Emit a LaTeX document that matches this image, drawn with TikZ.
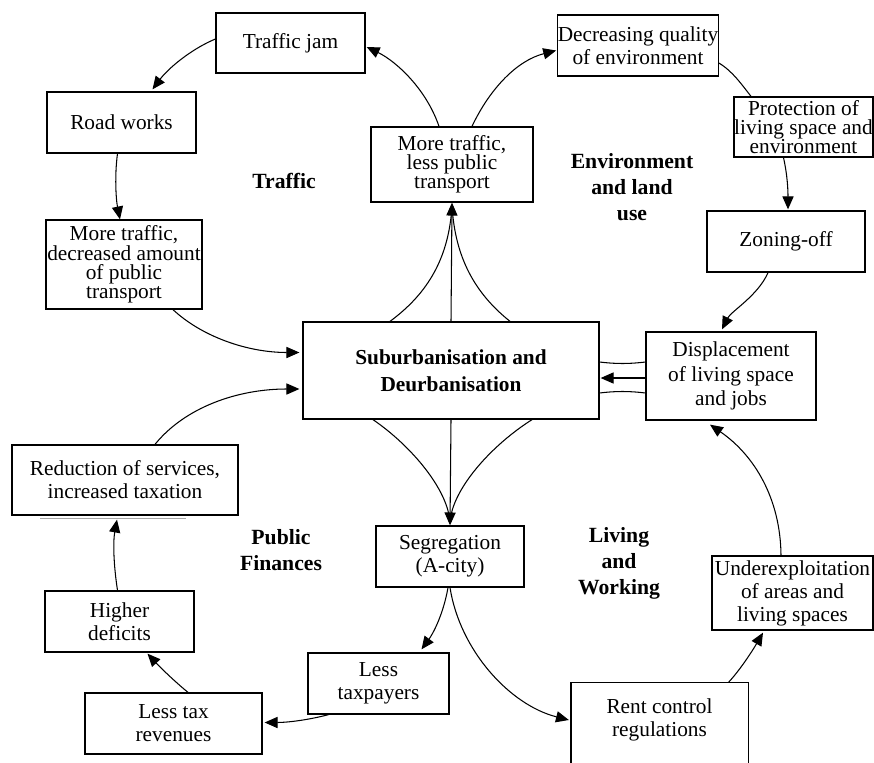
\documentclass[tikz,border=0pt]{standalone}
\usepackage{fontspec}
\setmainfont{Liberation Serif}
\usetikzlibrary{arrows.meta,calc}
\def\px{0.03cm}
\begin{document}
\begin{tikzpicture}[x=0.03cm,y=-0.03cm,
  box/.style={draw, line width=1.1pt, inner sep=0pt, align=center, font=\fontsize{18.2}{19.6}\selectfont},
  tight/.style={font=\fontsize{18.2}{16.4}\selectfont},
  lab/.style={align=center, font=\bfseries\fontsize{18.5}{22.3}\selectfont},
  con/.style={line width=0.9pt},
  arr/.style={con, -{Triangle[length=11pt,width=9.5pt]}},
]
\useasboundingbox (0,0) rectangle (874,763);
\clip (0,0) rectangle (874,763);

% boxes
\node[box, minimum width=149*\px, minimum height=60*\px] (tj) at (290.5,43) {Traffic jam};
\node[box, minimum width=149*\px, minimum height=61*\px] (rw) at (121.5,122.5) {Road works};
\node[box, tight, minimum width=156*\px, minimum height=89*\px] (mt) at (124,264.5) {More traffic,\\decreased amount\\of public\\transport};
\node[box, tight, minimum width=162*\px, minimum height=75*\px] (ml) at (452,164.5) {More traffic,\\less public\\transport};
\node[box, minimum width=156*\px, minimum height=61*\px] (dq) at (638,45.5) {Decreasing quality\\of environment};
\node[box, tight, minimum width=139*\px, minimum height=60*\px] (pr) at (803.5,127) {Protection of\\living space and\\environment};
\node[box, minimum width=158*\px, minimum height=61*\px] (zo) at (786,241.5) {Zoning-off};
\node[box, font=\fontsize{18.2}{21}\selectfont, minimum width=170*\px, minimum height=88*\px] (dp) at (731,376) {Displacement\\of living space\\and jobs};
\node[box, font=\bfseries\fontsize{18.2}{22.8}\selectfont, minimum width=296*\px, minimum height=97*\px] (c) at (451,370.5) {Suburbanisation and\\Deurbanisation};
\node[box, minimum width=148*\px, minimum height=61*\px] (sg) at (450,556.5) {Segregation\\(A-city)};
\node[box, minimum width=226*\px, minimum height=70*\px] (rd) at (125,480) {Reduction of services,\\increased taxation};
\node[box, minimum width=149*\px, minimum height=61*\px] (hd) at (119.5,621.5) {Higher\\deficits};
\node[box, minimum width=177*\px, minimum height=61*\px] (lt) at (173.5,723.5) {Less tax\\revenues};
\node[box, minimum width=141*\px, minimum height=61*\px] (lp) at (378.5,683.5) {Less\\taxpayers};
\node[box, draw=none, minimum width=176*\px, minimum height=74*\px] (rc) at (659.5,720) {Rent control\\regulations};
\draw[black, line width=1.1pt] ($(rc.south west)+(0,20)$) -- (rc.north west) -- (rc.north east) -- ($(rc.south east)+(0,20)$);
\node[box, minimum width=161*\px, minimum height=74*\px] (ux) at (792.5,593) {Underexploitation\\of areas and\\living spaces};

% scan line under reduction box
\draw[gray!70, line width=0.6pt] ($(rd.south west)+(29,2.5)$) -- ($(rd.south west)+(175,2.5)$);

% labels
\node[lab] (lTraffic) at (284,181) {Traffic};
\node[lab] (lEnv) at (632,187) {Environment\\and land\\use};
\node[lab] (lPub) at (281,550) {Public\\Finances};
\node[lab] (lLiv) at (619,563) {Living\\and\\Working};

% central -> more traffic, less public transport
\draw[arr] (c.north) -- (ml.south);
\draw[con] ($(c.north)+(-61,0)$) .. controls ($(c.north)+(-23,-28)$) and ($(ml.south)+(-3,55)$) .. ($(ml.south)+(0,3)$);
\draw[con] ($(c.north)+(59,0)$) .. controls ($(c.north)+(24,-28)$) and ($(ml.south)+(3,55)$) .. ($(ml.south)+(0,3)$);

% traffic loop
\draw[arr] ($(ml.north)+(-13,0)$) .. controls ($(ml.north)+(-26,-38)$) and ($(tj.east)+(30,18)$) .. ($(tj.east)+(1,4)$);
\draw[arr] ($(tj.west)+(0,-4)$) .. controls ($(tj.west)+(-26,7)$) and ($(rw.north)+(46,-22)$) .. ($(rw.north)+(31,-2)$);
\draw[arr] ($(rw.south)+(-4,0)$) .. controls ($(rw.south)+(-7,22)$) and ($(mt.north)+(-8,-20)$) .. ($(mt.north)+(-4,0)$);
\draw[arr] ($(mt.south)+(49,0)$) .. controls ($(mt.south)+(78,27)$) and ($(c.west)+(-55,-18)$) .. ($(c.west)+(-3,-18)$);
\draw[arr] ($(rd.north)+(30,0)$) .. controls ($(rd.north)+(60,-37)$) and ($(c.west)+(-65,18.5)$) .. ($(c.west)+(-3,18.5)$);

% environment loop
\draw[arr] ($(ml.north)+(20,0)$) .. controls ($(ml.north)+(38,-38)$) and ($(dq.west)+(-40,15)$) .. ($(dq.west)+(-1,5)$);
\draw[con] ($(dq.east)+(0,17.5)$) .. controls ($(dq.east)+(14,26)$) and ($(pr.north)+(-62,-12)$) .. ($(pr.north)+(-52.5,0)$);
\draw[arr] ($(pr.south)+(-20,0)$) .. controls ($(pr.south)+(-16,18)$) and ($(zo.north)+(2,-20)$) .. ($(zo.north)+(2,-1)$);
\draw[arr] ($(zo.south)+(-18,0)$) .. controls ($(zo.south)+(-28,23)$) and ($(dp.north)+(0,-20)$) .. ($(dp.north)+(-9,-2)$);

% displacement -> central
\draw[con] ($(dp.west)+(0,-14)$) .. controls ($(dp.west)+(-16,-12)$) and ($(c.east)+(16,-6.5)$) .. ($(c.east)+(0,-8.5)$);
\draw[arr] ($(dp.west)+(0,2)$) -- ($(c.east)+(1,7.5)$);
\draw[con] ($(dp.west)+(0,17)$) .. controls ($(dp.west)+(-16,15)$) and ($(c.east)+(16,20.5)$) .. ($(c.east)+(0,22.5)$);

% central -> segregation
\draw[arr] (c.south) -- (sg.north);
\draw[con] ($(c.south)+(-78,0)$) .. controls ($(c.south)+(-40,26)$) and ($(sg.north)+(-2,-36)$) .. ($(sg.north)+(0,-3)$);
\draw[con] ($(c.south)+(81,0)$) .. controls ($(c.south)+(40,26)$) and ($(sg.north)+(2,-36)$) .. ($(sg.north)+(0,-3)$);

% public finances loop
\draw[arr] ($(sg.south)+(-2,0)$) .. controls ($(sg.south)+(-7,28)$) and ($(lp.north)+(54,-18)$) .. ($(lp.north)+(43,-3)$);
\draw[arr] ($(lp.south)+(-50,0)$) .. controls ($(lp.south)+(-73,6)$) and ($(lt.east)+(23,-1)$) .. ($(lt.east)+(2,-1)$);
\draw[arr] ($(lt.north)+(14.5,0)$) .. controls ($(lt.north)+(1,-11)$) and ($(hd.south)+(40,14)$) .. ($(hd.south)+(28,1)$);
\draw[arr] ($(hd.north)+(-2,0)$) .. controls ($(hd.north)+(-6,-26)$) and ($(rd.south)+(-12,26)$) .. ($(rd.south)+(-8,4)$);

% living and working loop
\draw[arr] (sg.south) .. controls ($(sg.south)+(10,63)$) and ($(rc.west)+(-61,-15)$) .. ($(rc.west)+(-2,0)$);
\draw[arr] ($(rc.north)+(69,0)$) .. controls ($(rc.north)+(81,-13)$) and ($(ux.south)+(-40,20)$) .. ($(ux.south)+(-29.5,2)$);
\draw[arr] ($(ux.north)+(-11.5,0)$) .. controls ($(ux.north)+(-12,-56)$) and ($(dp.south)+(24,35)$) .. ($(dp.south)+(-21,4)$);
\end{tikzpicture}
\end{document}
